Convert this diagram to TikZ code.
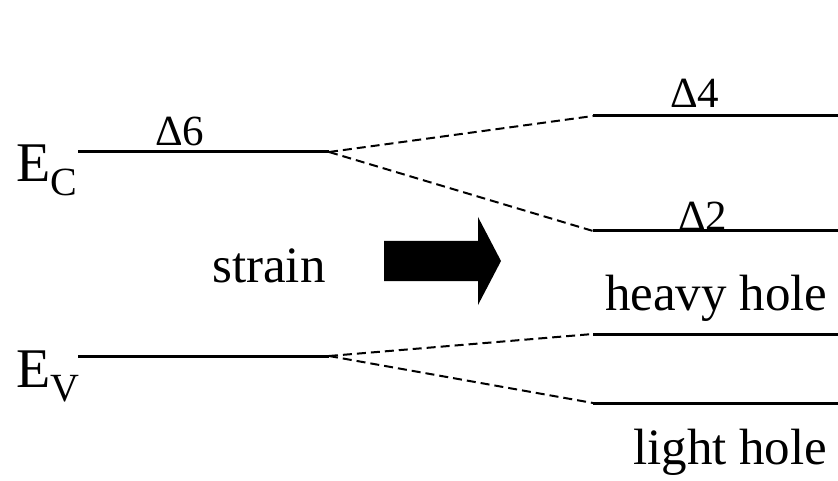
\documentclass[tikz,border=0pt]{standalone}
\usepackage{fontspec}
\setmainfont{Liberation Serif}
\begin{document}
\begin{tikzpicture}[x=1pt,y=-1pt,
  level/.style={line width=3pt},
  split/.style={line width=2pt,dash pattern=on 9pt off 5pt},
  bigtxt/.style={anchor=base west,inner sep=0pt,font=\fontsize{51}{51}\selectfont},
  deltatxt/.style={anchor=base west,inner sep=0pt,font=\fontsize{43}{43}\selectfont},
  bandtxt/.style={anchor=base west,inner sep=0pt,font=\fontsize{56}{56}\selectfont}]
\useasboundingbox (0,0) rectangle (838,481);

% unstrained band edges
\coordinate (ecL) at (78,152);  \coordinate (ecR) at (329,152);
\coordinate (evL) at (78,356);  \coordinate (evR) at (329,356);
% strained levels
\coordinate (d4L) at (593,116); \coordinate (d4R) at (838,116);
\coordinate (d2L) at (593,231); \coordinate (d2R) at (838,231);
\coordinate (hhL) at (593,334); \coordinate (hhR) at (838,334);
\coordinate (lhL) at (593,403); \coordinate (lhR) at (838,403);

\draw[level] (ecL) -- (ecR);
\draw[level] (evL) -- (evR);
\draw[level] (d4L) -- (d4R);
\draw[level] (d2L) -- (d2R);
\draw[level] (hhL) -- (hhR);
\draw[level] (lhL) -- (lhR);

\draw[split] (ecR) -- (d4L);
\draw[split] (ecR) -- (d2L);
\draw[split] (evR) -- (hhL);
\draw[split] (evR) -- (lhL);

% strain arrow
\fill (384,241) -- (478,241) -- (478,217) -- (501,261) -- (478,305)
  -- (478,281) -- (384,281) -- cycle;

% labels
\node[bandtxt] (ec) at (16,182) {E\raisebox{-14pt}{\fontsize{40}{40}\selectfont C}};
\node[bandtxt] (ev) at (16,387) {E\raisebox{-14pt}{\fontsize{40}{40}\selectfont V}};
\node[deltatxt] (d6) at (155,146) {Δ6};
\node[deltatxt] (d4) at (670,108) {Δ4};
\node[deltatxt] (d2) at (678,230) {Δ2};
\node[bigtxt] (st) at (212,282) {strain};
\node[bigtxt] (hh) at (605,310) {heavy hole};
\node[bigtxt] (lh) at (633,464) {light hole};
\end{tikzpicture}
\end{document}
